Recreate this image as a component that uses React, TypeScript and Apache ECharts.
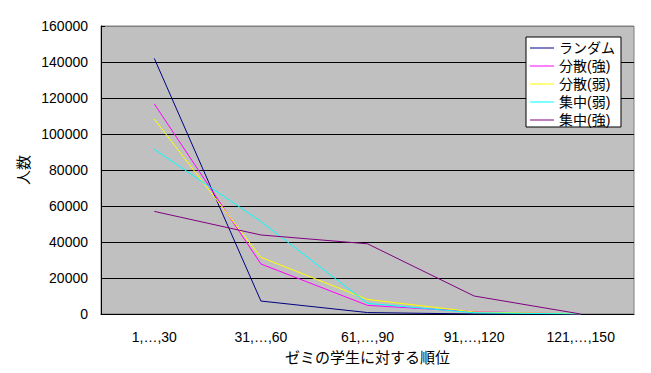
import React, { useEffect, useRef } from "react";
import * as echarts from "echarts";

const categories = ["1,…,30", "31,…,60", "61,…,90", "91,…,120", "121,…,150"];
const seriesNames = ["ランダム", "分散(強)", "分散(弱)", "集中(弱)", "集中(強)"];
const randomVals = [142000, 7200, 800, 0, 0];
const bunsanStrong = [116700, 27800, 4800, 1300, 0];
const bunsanWeak = [108300, 31500, 8100, 1100, 100];
const shuchuWeak = [91500, 51400, 5900, 700, 0];
const shuchuStrong = [57000, 43900, 39000, 10000, 0];
const seriesColors = ["#000080", "#ff00ff", "#ffff00", "#00ffff", "#800080"];
const yTicks = [0, 20000, 40000, 60000, 80000, 100000, 120000, 140000, 160000];

const allValues = [randomVals, bunsanStrong, bunsanWeak, shuchuWeak, shuchuStrong];

export default function App() {
  const ref = useRef<HTMLDivElement>(null);
  useEffect(() => {
    if (!ref.current) return;
    const chart = echarts.init(ref.current, null, { renderer: "svg" });
    const sansLatin = "'Liberation Sans', Arial, 'Noto Sans CJK JP', sans-serif";
    const sansJP = "'Noto Sans CJK JP', sans-serif";
    chart.setOption({
      animation: false,
      backgroundColor: "#ffffff",
      grid: {
        left: 101,
        top: 26,
        right: 17,
        bottom: 59,
        show: true,
        backgroundColor: "#c0c0c0",
        borderColor: "#808080",
        borderWidth: 1,
      },
      legend: {
        orient: "vertical",
        left: 526,
        top: 37,
        data: seriesNames.map((name) => ({ name, icon: "path://M0,0 h24 v1 h-24 z" })),
        itemWidth: 24,
        itemHeight: 14,
        itemGap: 4,
        padding: [4, 6, 0, 4],
        backgroundColor: "#ffffff",
        borderColor: "#000000",
        borderWidth: 1,
        borderRadius: 0,
        textStyle: { fontFamily: sansLatin, fontSize: 14, lineHeight: 14, color: "#000" },
      },
      xAxis: {
        type: "category",
        data: categories,
        boundaryGap: true,
        name: "ゼミの学生に対する順位",
        nameLocation: "middle",
        nameGap: 35,
        nameTextStyle: { fontFamily: sansJP, fontSize: 15, color: "#000" },
        axisLine: { lineStyle: { color: "#000", width: 1 } },
        axisTick: { inside: true, length: 4, lineStyle: { color: "#000" } },
        axisLabel: { fontFamily: sansLatin, fontSize: 14, color: "#000", margin: 16 },
        splitLine: { show: false },
      },
      yAxis: {
        type: "value",
        min: yTicks[0],
        max: yTicks[yTicks.length - 1],
        interval: yTicks[1] - yTicks[0],
        name: "人数",
        nameLocation: "middle",
        nameGap: 62,
        nameTextStyle: { fontFamily: sansJP, fontSize: 15, color: "#000" },
        axisLine: { show: true, lineStyle: { color: "#000", width: 1 } },
        axisTick: { show: true, inside: true, length: 4, lineStyle: { color: "#000" } },
        axisLabel: {
          fontFamily: sansLatin,
          fontSize: 14,
          color: "#000",
          margin: 13,
          formatter: (v: number) => String(v),
        },
        splitLine: {
          show: true,
          lineStyle: {
            color: ["#000", "#000", "#000", "#000", "#000", "#000", "#000", "#000", "#808080"],
            width: 1,
          },
        },
      },
      series: seriesNames.map((name, i) => ({
        name,
        type: "line",
        data: allValues[i],
        symbol: "none",
        showSymbol: false,
        lineStyle: { color: seriesColors[i], width: 1 },
        itemStyle: { color: seriesColors[i] },
      })),
    });
    return () => chart.dispose();
  }, []);
  return <div ref={ref} style={{ width: 651, height: 373, position: "absolute", left: 0, top: 0 }} />;
}
